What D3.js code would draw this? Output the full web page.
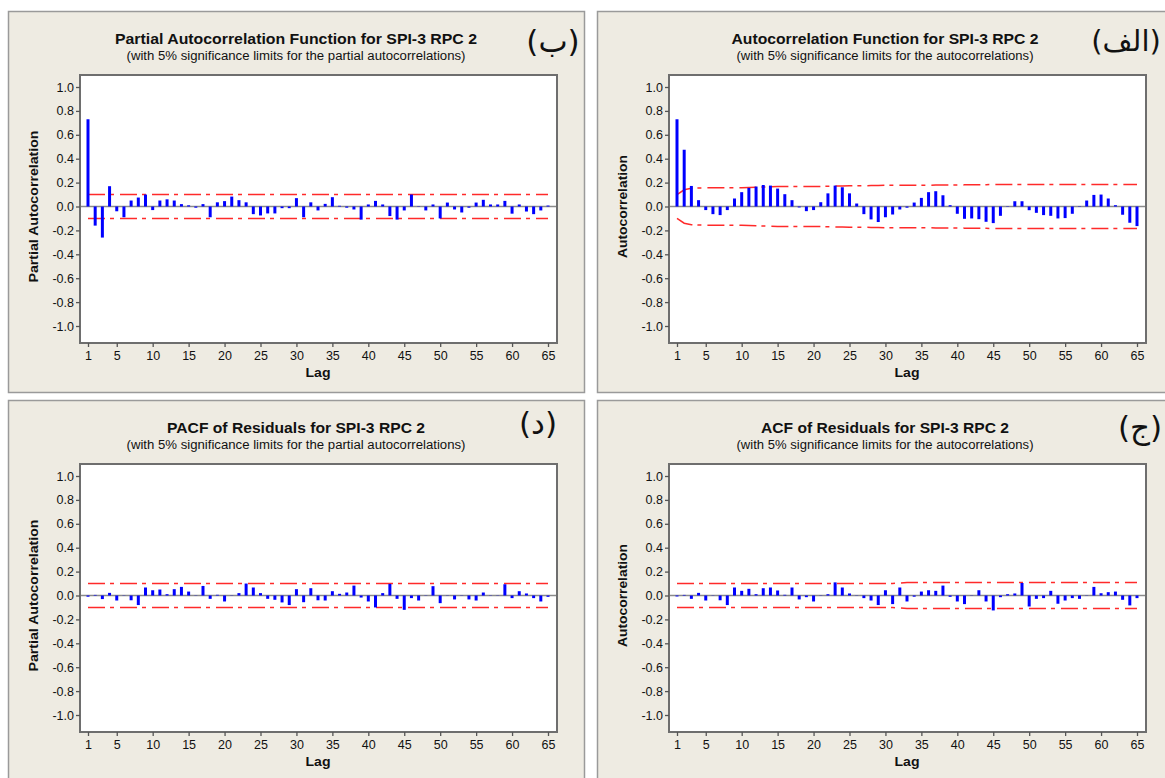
<!DOCTYPE html>
<html><head><meta charset="utf-8">
<script src="https://cdn.jsdelivr.net/npm/d3@7"></script>
<style>body{margin:0;background:#fff;} svg{display:block;}</style>
</head><body><svg id="c" width="1165" height="778"></svg>
<script>
const lags = d3.range(1, 66);
const xTicks = [1,5,10,15,20,25,30,35,40,45,50,55,60,65];
const yTicks = [1.0,0.8,0.6,0.4,0.2,0.0,-0.2,-0.4,-0.6,-0.8,-1.0];

const pacfValues = [0.73,-0.16,-0.26,0.17,-0.04,-0.09,0.05,0.075,0.10,-0.03,0.05,0.06,0.05,0.02,0.01,-0.01,0.02,-0.09,0.035,0.045,0.083,0.053,0.035,-0.064,-0.075,-0.058,-0.058,-0.014,-0.014,0.07,-0.09,0.035,-0.033,0.022,0.078,0.006,-0.01,-0.025,-0.11,0.017,0.047,0.017,-0.08,-0.11,-0.033,0.10,0.003,-0.033,0.017,-0.10,0.033,-0.025,-0.05,-0.01,0.033,0.056,0.017,0.017,0.047,-0.06,0.017,-0.042,-0.064,-0.033,0.008];
const pacfLimits = [0.10,0.10,0.10,0.10,0.10,0.10,0.10,0.10,0.10,0.10,0.10,0.10,0.10,0.10,0.10,0.10,0.10,0.10,0.10,0.10,0.10,0.10,0.10,0.10,0.10,0.10,0.10,0.10,0.10,0.10,0.10,0.10,0.10,0.10,0.10,0.10,0.10,0.10,0.10,0.10,0.10,0.10,0.10,0.10,0.10,0.10,0.10,0.10,0.10,0.10,0.10,0.10,0.10,0.10,0.10,0.10,0.10,0.10,0.10,0.10,0.10,0.10,0.10,0.10,0.10];

const acfValues = [0.73,0.475,0.172,0.053,-0.03,-0.064,-0.072,-0.03,0.067,0.12,0.156,0.167,0.18,0.175,0.15,0.103,0.053,-0.008,-0.039,-0.03,0.036,0.11,0.175,0.161,0.11,0.025,-0.064,-0.108,-0.13,-0.09,-0.067,-0.025,-0.01,0.033,0.072,0.12,0.128,0.094,0.011,-0.061,-0.103,-0.10,-0.106,-0.128,-0.139,-0.078,0.003,0.044,0.044,-0.031,-0.053,-0.072,-0.078,-0.10,-0.097,-0.061,0.003,0.05,0.097,0.10,0.067,0.011,-0.069,-0.136,-0.164];
const acfLimits = [0.10,0.14,0.152,0.155,0.156,0.156,0.156,0.156,0.156,0.157,0.159,0.161,0.163,0.165,0.167,0.168,0.168,0.168,0.168,0.168,0.168,0.169,0.171,0.172,0.173,0.174,0.174,0.175,0.176,0.177,0.177,0.177,0.177,0.177,0.177,0.178,0.179,0.180,0.180,0.180,0.181,0.181,0.182,0.183,0.184,0.185,0.185,0.185,0.185,0.185,0.185,0.185,0.185,0.185,0.185,0.185,0.185,0.185,0.185,0.185,0.185,0.185,0.185,0.185,0.185];

const residPacfValues = [-0.01,0.005,-0.03,0.022,-0.042,0.002,-0.04,-0.08,0.067,0.044,0.05,0.011,0.053,0.072,0.033,0.002,0.08,-0.028,0.006,-0.05,0.002,0.02,0.10,0.067,0.02,-0.028,-0.036,-0.058,-0.08,0.053,-0.056,0.061,-0.04,-0.042,0.036,0.014,0.025,0.083,-0.017,-0.05,-0.10,0.02,0.097,-0.028,-0.12,-0.022,-0.042,0.002,0.078,-0.064,0.002,-0.033,0.002,-0.033,-0.042,0.025,0.002,0.002,0.094,-0.022,0.036,0.017,-0.022,-0.05,-0.011];
const residPacfLimits = pacfLimits;

const residAcfValues = [-0.008,0.005,-0.028,0.022,-0.042,0.002,-0.04,-0.08,0.067,0.039,0.056,0.011,0.061,0.067,0.042,0.006,0.067,-0.033,-0.014,-0.05,0.002,0.011,0.11,0.067,0.017,0.002,-0.022,-0.042,-0.08,0.044,-0.072,0.067,-0.05,-0.01,0.033,0.044,0.039,0.083,-0.011,-0.05,-0.072,0.002,0.044,-0.05,-0.125,-0.014,0.011,0.017,0.105,-0.092,-0.028,-0.022,0.039,-0.069,-0.042,-0.022,-0.028,0.002,0.072,0.019,0.028,0.033,-0.036,-0.083,-0.022];
const residAcfLimits = [0.101,0.101,0.101,0.101,0.101,0.101,0.101,0.101,0.101,0.101,0.101,0.101,0.101,0.101,0.101,0.101,0.101,0.101,0.101,0.101,0.101,0.101,0.101,0.101,0.101,0.101,0.101,0.101,0.101,0.101,0.101,0.104,0.109,0.109,0.109,0.109,0.109,0.109,0.109,0.109,0.109,0.109,0.109,0.109,0.109,0.109,0.109,0.109,0.109,0.109,0.109,0.109,0.109,0.109,0.109,0.109,0.109,0.109,0.109,0.109,0.109,0.109,0.109,0.109,0.109];

const panels = [
  {px:8, py:11, title:"Partial Autocorrelation Function for SPI-3 RPC 2", titleW:362, sub:"(with 5% significance limits for the partial autocorrelations)", subW:339, ylab:"Partial Autocorrelation", ylabW:152, values:pacfValues, limits:pacfLimits, tag:"(ب)", tagX:545, tagY:41, tagSize:31},
  {px:597, py:11, title:"Autocorrelation Function for SPI-3 RPC 2", titleW:307, sub:"(with 5% significance limits for the autocorrelations)", subW:297, ylab:"Autocorrelation", ylabW:103, values:acfValues, limits:acfLimits, tag:"(الف)", tagX:529, tagY:40, tagSize:29},
  {px:8, py:400, title:"PACF of Residuals for SPI-3 RPC 2", titleW:258, sub:"(with 5% significance limits for the partial autocorrelations)", subW:339, ylab:"Partial Autocorrelation", ylabW:152, values:residPacfValues, limits:residPacfLimits, tag:"(د)", tagX:530, tagY:34, tagSize:31},
  {px:597, py:400, title:"ACF of Residuals for SPI-3 RPC 2", titleW:248, sub:"(with 5% significance limits for the autocorrelations)", subW:297, ylab:"Autocorrelation", ylabW:103, values:residAcfValues, limits:residAcfLimits, tag:"(ج)", tagX:543, tagY:38, tagSize:31}
];

const svg = d3.select("#c");
const FONT = "'Liberation Sans', Arial, sans-serif";

panels.forEach(p => {
  const g = svg.append("g").attr("transform", `translate(${p.px},${p.py})`);
  g.append("rect").attr("x",0.5).attr("y",0.5).attr("width",576).attr("height",381)
    .attr("fill","#eeebe2").attr("stroke","#9a9a9a").attr("stroke-width",1.5);

  const x = d3.scaleLinear().domain([1,65]).range([80,540]);
  const y = d3.scaleLinear().domain([-1,1]).range([315,76]);

  g.append("rect").attr("x",72).attr("y",64).attr("width",477).attr("height",268)
    .attr("fill","#fff").attr("stroke","#6e6e6e").attr("stroke-width",2);

  g.append("line").attr("x1",73).attr("x2",548).attr("y1",y(0)).attr("y2",y(0))
    .attr("stroke","#8a8a8a").attr("stroke-width",1.5);

  const up = d3.line().x((d,i)=>x(lags[i])).y(d=>y(d));
  const lo = d3.line().x((d,i)=>x(lags[i])).y(d=>y(-d));
  [up, lo].forEach(gen => {
    g.append("path").attr("d", gen(p.limits)).attr("fill","none")
      .attr("stroke","#ff2a2a").attr("stroke-width",1.5)
      .attr("stroke-dasharray","17,5,4,6");
  });

  g.selectAll(".bar").data(p.values).enter().append("line")
    .attr("x1",(d,i)=>x(lags[i])).attr("x2",(d,i)=>x(lags[i]))
    .attr("y1",y(0)).attr("y2",d=>y(d))
    .attr("stroke","#0000ff").attr("stroke-width",3);

  const ya = g.append("g").attr("transform","translate(72,0)")
    .call(d3.axisLeft(y).tickValues(yTicks).tickFormat(d=>d.toFixed(1)).tickSize(4).tickPadding(2));
  const xa = g.append("g").attr("transform","translate(0,332)")
    .call(d3.axisBottom(x).tickValues(xTicks).tickSize(4).tickPadding(4));
  [ya, xa].forEach(a => {
    a.select(".domain").remove();
    a.selectAll("line").attr("stroke","#555").attr("stroke-width",1.3);
    a.selectAll("text").attr("font-family",FONT).attr("font-size",12.5).attr("fill","#111");
  });

  g.append("text").attr("x",288).attr("y",33).attr("text-anchor","middle")
    .attr("font-family",FONT).attr("font-weight","bold").attr("font-size",15).attr("fill","#111")
    .attr("textLength",p.titleW).attr("lengthAdjust","spacingAndGlyphs").text(p.title);
  g.append("text").attr("x",288).attr("y",48.5).attr("text-anchor","middle")
    .attr("font-family",FONT).attr("font-size",12.5).attr("fill","#111")
    .attr("textLength",p.subW).attr("lengthAdjust","spacingAndGlyphs").text(p.sub);
  g.append("text").attr("transform",`translate(30,${y(0)}) rotate(-90)`).attr("text-anchor","middle")
    .attr("font-family",FONT).attr("font-weight","bold").attr("font-size",12.5).attr("fill","#111")
    .attr("textLength",p.ylabW).attr("lengthAdjust","spacingAndGlyphs").text(p.ylab);
  g.append("text").attr("x",310).attr("y",366).attr("text-anchor","middle")
    .attr("font-family",FONT).attr("font-weight","bold").attr("font-size",13).attr("fill","#111")
    .attr("textLength",25).attr("lengthAdjust","spacingAndGlyphs").text("Lag");
  g.append("text").attr("x",p.tagX).attr("y",p.tagY).attr("text-anchor","middle")
    .attr("font-family","'DejaVu Sans', sans-serif").attr("font-size",p.tagSize).attr("fill","#111").text(p.tag);
});
</script>
</body></html>
